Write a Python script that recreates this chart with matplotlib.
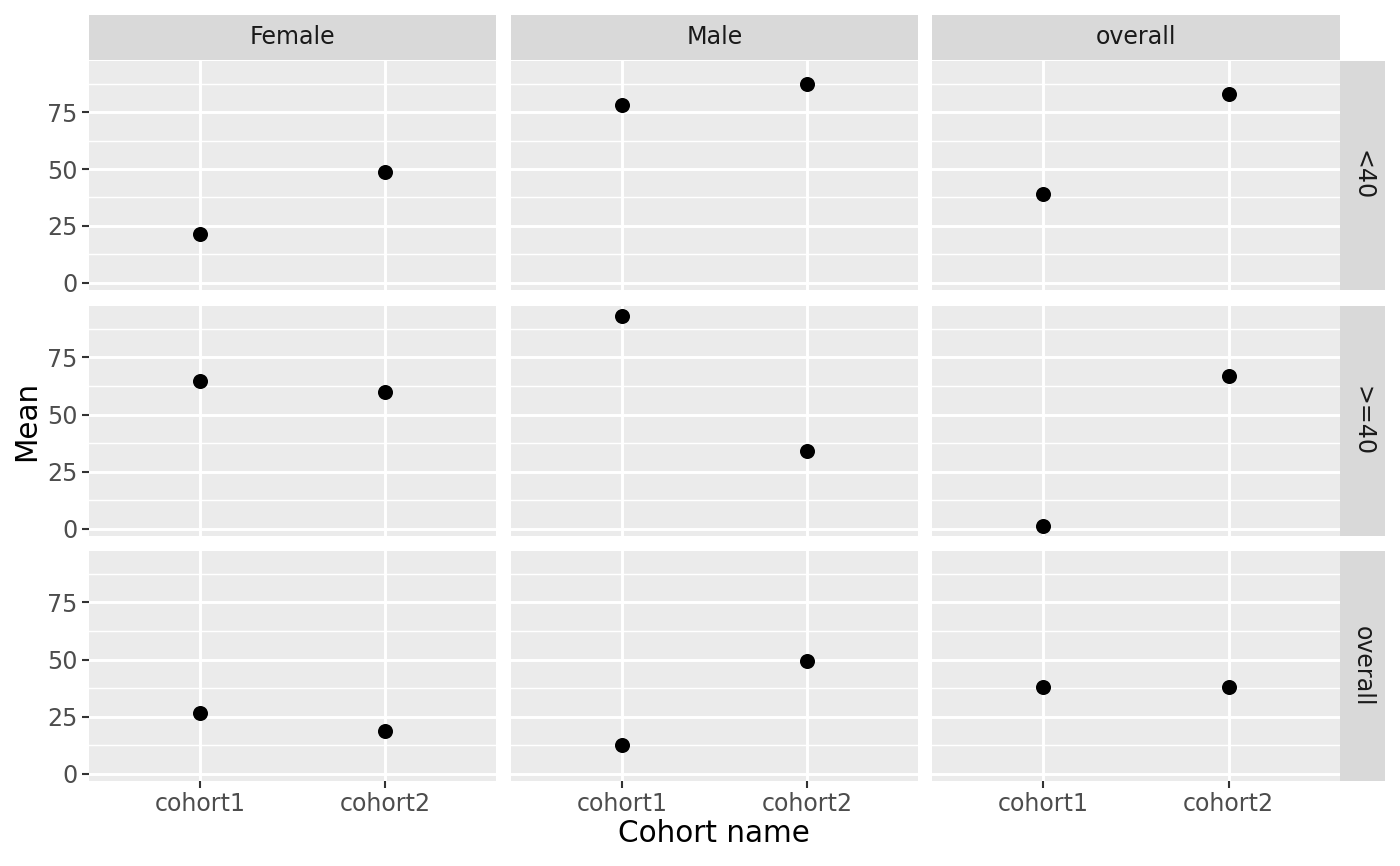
import matplotlib.pyplot as plt
import numpy as np

cohorts = ["cohort1", "cohort2"]
sex_levels = ["Female", "Male", "overall"]
age_levels = ["<40", ">=40", "overall"]

# mean values, rows = age group, cols = sex, pairs = (cohort1, cohort2)
mean_lt40 = [[21.5, 48.5], [78.0, 87.3], [38.9, 82.9]]
mean_ge40 = [[64.9, 59.8], [93.0, 33.9], [1.3, 66.8]]
mean_overall = [[26.7, 18.5], [12.3, 49.2], [37.8, 38.1]]
means = [mean_lt40, mean_ge40, mean_overall]

W, H, DPI = 1400, 866, 150
fig = plt.figure(figsize=(W / DPI, H / DPI), dpi=DPI)

col_x = [(89, 496), (511, 918), (932, 1340)]
row_y = [(61, 290), (306, 536), (551, 781)]
strip_top = (15, 60)
strip_right = (1340, 1385)

allv = np.array(means).ravel()
lo, hi = allv.min(), allv.max()
pad = (hi - lo) * 0.05
ylim = (lo - pad, hi + pad)

TICK_FS = 11.4
STRIP_FS = 11.4
TITLE_FS = 14.2


def px_box(x0, x1, y0, y1):
    return [x0 / W, 1 - y1 / H, (x1 - x0) / W, (y1 - y0) / H]


def strip(box, label, rot):
    sax = fig.add_axes(box)
    sax.set_facecolor("#D9D9D9")
    sax.set_xticks([])
    sax.set_yticks([])
    for s in sax.spines.values():
        s.set_visible(False)
    sax.text(0.5, 0.5, label, ha="center", va="center", rotation=rot,
             fontsize=STRIP_FS, color="#1A1A1A", transform=sax.transAxes)


for r, (y0, y1) in enumerate(row_y):
    for c, (x0, x1) in enumerate(col_x):
        ax = fig.add_axes(px_box(x0, x1, y0, y1))
        ax.set_facecolor("#EBEBEB")
        for s in ax.spines.values():
            s.set_visible(False)
        ax.set_xlim(0.4, 2.6)
        ax.set_ylim(*ylim)
        for yv in [12.5, 37.5, 62.5, 87.5]:
            ax.axhline(yv, color="white", lw=0.7, zorder=1)
        for yv in [0, 25, 50, 75]:
            ax.axhline(yv, color="white", lw=1.4, zorder=1)
        for xv in [1, 2]:
            ax.axvline(xv, color="white", lw=1.4, zorder=1)
        ax.scatter([1, 2], means[r][c], s=52, color="black", zorder=3, linewidths=0)
        ax.set_yticks([0, 25, 50, 75])
        ax.set_xticks([1, 2])
        ax.tick_params(length=3.5, width=1.0, color="#333333", labelcolor="#4D4D4D",
                       labelsize=TICK_FS, pad=2)
        if c == 0:
            ax.set_yticklabels(["0", "25", "50", "75"])
        else:
            ax.tick_params(axis="y", left=False, labelleft=False)
        if r == 2:
            ax.set_xticklabels(cohorts)
        else:
            ax.tick_params(axis="x", bottom=False, labelbottom=False)

        if r == 0:
            strip(px_box(x0, x1, strip_top[0], strip_top[1]), sex_levels[c], 0)
        if c == 2:
            strip(px_box(strip_right[0], strip_right[1], y0, y1), age_levels[r], -90)

fig.text(714 / W, 1 - 834 / H, "Cohort name", ha="center", va="center", fontsize=TITLE_FS)
fig.text(27 / W, 1 - 421 / H, "Mean", ha="center", va="center", rotation=90, fontsize=TITLE_FS)

fig.savefig("out.png", dpi=DPI, facecolor="white")
